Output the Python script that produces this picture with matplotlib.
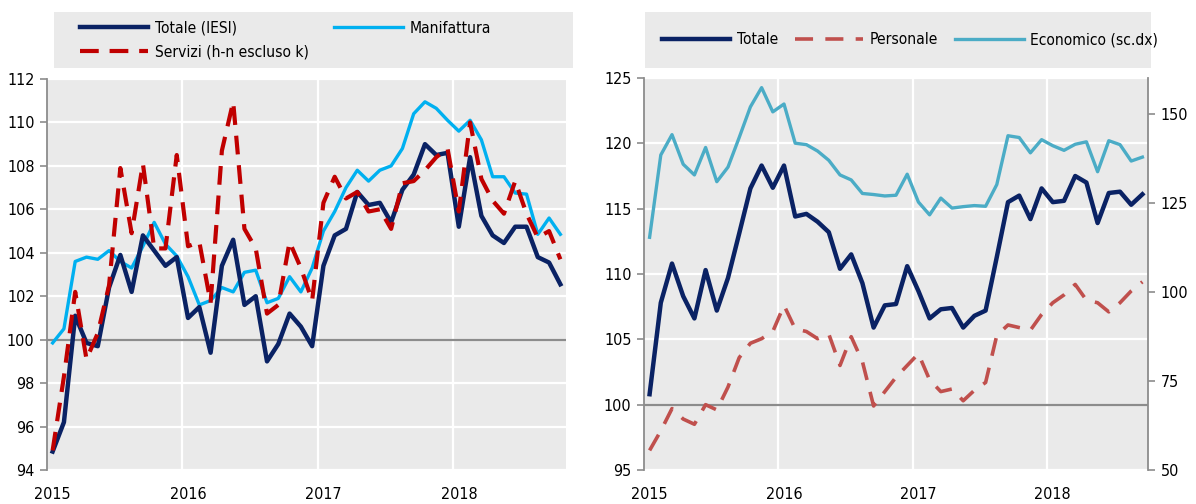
import matplotlib
matplotlib.use("Agg")
import matplotlib.pyplot as plt
from matplotlib.patches import Rectangle
from matplotlib import font_manager
import numpy as np

plt.rcParams['font.family'] = ['DejaVu Sans']
plt.rcParams['font.stretch'] = 'condensed'
_path = font_manager.findfont(font_manager.FontProperties(family='DejaVu Sans',
                                                          stretch='condensed'))
CONDENSED = 'Condensed' in _path
if not CONDENSED:
    plt.rcParams['font.family'] = ['Liberation Sans', 'DejaVu Sans']

# ---------------- data ----------------
years = ["2015", "2016", "2017", "2018"]

# left panel: monthly, Jan 2015 - Oct 2018
totale_iesi = [94.85, 96.2, 101.1, 99.85, 99.7, 102.4, 103.9, 102.2, 104.8, 104.1,
               103.4, 103.8, 101.0, 101.5, 99.4, 103.4, 104.6, 101.6, 102.0, 99.0,
               99.8, 101.2, 100.6, 99.7, 103.4, 104.8, 105.1, 106.8, 106.2, 106.3,
               105.4, 106.9, 107.6, 109.0, 108.5, 108.6, 105.2, 108.4, 105.7, 104.8,
               104.45, 105.2, 105.2, 103.8, 103.55, 102.55]
manifattura = [99.85, 100.5, 103.6, 103.8, 103.7, 104.1, 103.6, 103.3, 104.3, 105.4,
               104.4, 103.85, 102.9, 101.6, 101.8, 102.4, 102.2, 103.1, 103.2, 101.7,
               101.9, 102.9, 102.2, 103.3, 105.0, 105.9, 107.0, 107.8, 107.3, 107.8,
               108.0, 108.8, 110.4, 110.95, 110.65, 110.1, 109.6, 110.1, 109.2, 107.5,
               107.5, 106.75, 106.7, 104.85, 105.6, 104.85]
servizi = [94.9, 98.3, 102.2, 99.1, 100.3, 102.5, 107.9, 104.9, 108.1, 104.2,
           104.2, 108.5, 104.3, 104.5, 101.7, 108.7, 110.95, 105.1, 104.2, 101.2,
           101.6, 104.5, 103.3, 101.8, 106.3, 107.5, 106.5, 106.8, 105.9, 106.0,
           105.1, 107.2, 107.3, 107.8, 108.4, 108.8, 105.9, 110.0, 107.4, 106.4,
           105.8, 107.3, 105.8, 104.7, 105.0, 103.7]

# right panel: monthly, Jan 2015 - Sep 2018
totale_r = [100.8, 107.8, 110.8, 108.3, 106.6, 110.3, 107.2, 109.7, 113.1, 116.55,
            118.3, 116.6, 118.3, 114.4, 114.6, 114.0, 113.2, 110.4, 111.5, 109.3,
            105.9, 107.6, 107.7, 110.6, 108.7, 106.6, 107.3, 107.4, 105.9, 106.8,
            107.2, 111.3, 115.5, 116.0, 114.2, 116.55, 115.5, 115.6, 117.5, 117.0,
            113.9, 116.2, 116.3, 115.3, 116.1]
personale = [96.5, 98.0, 99.7, 98.9, 98.5, 100.0, 99.6, 101.35, 103.6, 104.7,
             105.05, 105.6, 107.6, 105.8, 105.6, 105.05, 105.4, 103.0, 105.2, 103.3,
             99.9, 101.0, 102.1, 103.0, 103.9, 101.9, 101.0, 101.2, 100.3, 101.1,
             101.7, 105.3, 106.1, 105.9, 105.7, 106.9, 107.8, 108.4, 109.2, 108.0,
             107.8, 107.1, 107.8, 108.7, 109.4]
economico = [115.3, 138.4, 144.1, 135.8, 132.8, 140.5, 130.9, 135.0, 143.3, 151.9,
             157.3, 150.5, 152.7, 141.7, 141.3, 139.5, 136.9, 132.8, 131.4, 127.6,
             127.3, 126.9, 127.1, 133.0, 125.2, 121.6, 126.3, 123.5, 123.9, 124.2,
             124.0, 130.1, 143.8, 143.3, 139.0, 142.7, 141.0, 139.7, 141.4, 142.1,
             133.7, 142.4, 141.3, 136.7, 137.8]

# ---------------- style ----------------
W, H = 1196, 504
BG = '#EAEAEA'
NAVY = '#0A2264'
CYAN = '#00B0F0'
DRED = '#C00000'
LRED = '#C0504D'
TEAL = '#4BACC6'
GRAY = '#8C8C8C'
FS = 11.5 if CONDENSED else 10.5
LFS = 11.2 if CONDENSED else 10.2

fig = plt.figure(figsize=(W / 100, H / 100), dpi=100)


def fx(px):
    return px / W


def fy(py):
    return (H - py) / H


def style_axes(ax, n, yticks, ylim):
    ax.set_facecolor(BG)
    ax.set_xlim(0, n)
    ax.set_ylim(*ylim)
    ax.set_yticks(yticks)
    for s in ['top', 'right', 'bottom']:
        ax.spines[s].set_visible(False)
    ax.spines['left'].set_color(GRAY)
    ax.spines['left'].set_linewidth(1.3)
    ax.tick_params(axis='y', direction='out', length=5, width=1.2, color=GRAY,
                   labelsize=FS, pad=4)
    ax.tick_params(axis='x', length=0, labelsize=FS, pad=12)
    ax.set_xticks([12 * k + 0.5 for k in range(len(years))])
    ax.set_xticklabels(years)
    for k in range(1, len(years)):
        ax.axvline(12 * k, color='white', lw=1.6, zorder=1)
    for t in yticks:
        ax.axhline(t, color='white', lw=1.6, zorder=1)
    ax.set_axisbelow(True)


# ---------------- left panel ----------------
ax1 = fig.add_axes([fx(47), fy(470), fx(566) - fx(47), fy(79) - fy(470)])
n1 = len(totale_iesi)
x1 = np.arange(n1) + 0.5
style_axes(ax1, n1, list(range(94, 113, 2)), (94, 112))
ax1.axhline(100, color=GRAY, lw=1.6, zorder=2)
l_man, = ax1.plot(x1, manifattura, color=CYAN, lw=2.4, zorder=3,
                  label='Manifattura')
l_tot, = ax1.plot(x1, totale_iesi, color=NAVY, lw=3.2, zorder=4,
                  label='Totale (IESI)')
l_ser, = ax1.plot(x1, servizi, color=DRED, lw=3.0, zorder=5,
                  dashes=(4.5, 2.6), label='Servizi (h-n escluso k)')

fig.add_artist(Rectangle((fx(54), fy(68)), fx(573) - fx(54), fy(12) - fy(68),
                         transform=fig.transFigure, facecolor=BG,
                         edgecolor='none', zorder=0))
leg1 = fig.legend(handles=[l_tot, l_ser, l_man], ncol=2,
                  loc='center left', bbox_to_anchor=(fx(80), fy(40)),
                  frameon=False, fontsize=LFS, handlelength=4.4,
                  handletextpad=0.45, columnspacing=1.6, labelspacing=0.55,
                  borderpad=0, borderaxespad=0)

# ---------------- right panel ----------------
ax2 = fig.add_axes([fx(644), fy(470), fx(1148) - fx(644), fy(78) - fy(470)])
n2 = len(totale_r)
x2 = np.arange(n2) + 0.5
style_axes(ax2, n2, list(range(95, 126, 5)), (95, 125))
ax2.axhline(100, color=GRAY, lw=1.6, zorder=2)

axr = ax2.twinx()
axr.set_xlim(0, n2)
axr.set_ylim(50, 160)
axr.set_yticks([50, 75, 100, 125, 150])
for s in ['top', 'left', 'bottom']:
    axr.spines[s].set_visible(False)
axr.spines['right'].set_color(GRAY)
axr.spines['right'].set_linewidth(1.3)
axr.tick_params(axis='y', direction='out', length=5, width=1.2, color=GRAY,
                labelsize=FS, pad=4)

ax2.plot(x2, personale, color=LRED, lw=2.6, dashes=(5, 3.4), zorder=3)
l_eco, = axr.plot(x2, economico, color=TEAL, lw=2.4, zorder=3,
                  label='Economico (sc.dx)')
l_pers, = axr.plot([], [], color=LRED, lw=2.6, dashes=(5, 3.4),
                   label='Personale')
# Totale is drawn on the twin (converted to its scale) so it sits above Economico
lo, hi = ax2.get_ylim()
rlo, rhi = axr.get_ylim()
l_tr, = axr.plot(x2, [(v - lo) / (hi - lo) * (rhi - rlo) + rlo for v in totale_r],
                 color=NAVY, lw=3.2, zorder=4, label='Totale')

fig.add_artist(Rectangle((fx(645), fy(68)), fx(1151) - fx(645), fy(12) - fy(68),
                         transform=fig.transFigure, facecolor=BG,
                         edgecolor='none', zorder=0))
leg2 = fig.legend(handles=[l_tr, l_pers, l_eco], ncol=3,
                  loc='center left', bbox_to_anchor=(fx(662), fy(40)),
                  frameon=False, fontsize=LFS, handlelength=4.4,
                  handletextpad=0.4, columnspacing=1.1,
                  borderpad=0, borderaxespad=0)

fig.savefig('out.png', dpi=100)
